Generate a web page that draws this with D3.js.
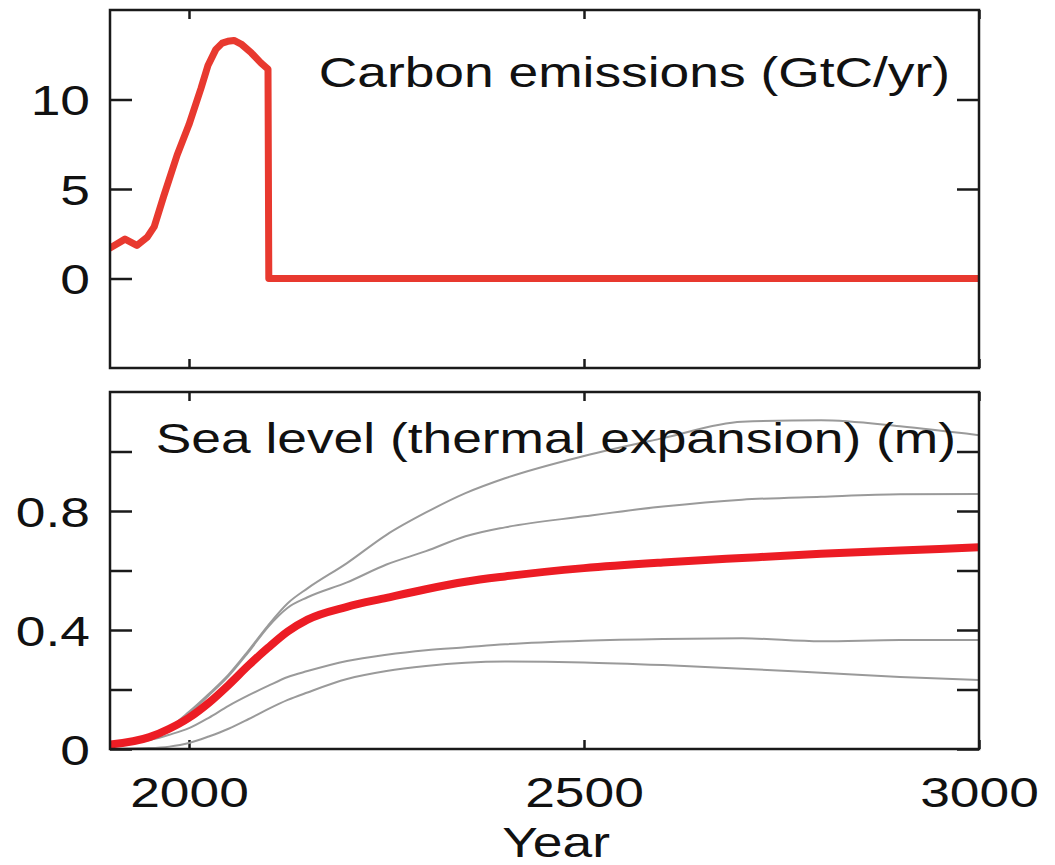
<!DOCTYPE html>
<html><head><meta charset="utf-8">
<script src="https://cdn.jsdelivr.net/npm/d3@7"></script>
<style>body{margin:0;background:#fff}</style>
</head><body><svg id="c" width="1055" height="865"></svg>
<script>
// ---- data ----
const emisYears  = [1900, 1919, 1934, 1947, 1956, 1968, 1985, 2000, 2015, 2024, 2034, 2042, 2049, 2057, 2066, 2079, 2091, 2100, 2101, 3000];
const emisValues = [1.7, 2.2, 1.85, 2.3, 2.9, 4.6, 6.9, 8.6, 10.6, 11.9, 12.8, 13.15, 13.25, 13.3, 13.1, 12.6, 12.05, 11.7, 0, 0];

const seaYears = [1900, 1950, 1975, 2000, 2025, 2050, 2075, 2100, 2125, 2150, 2200, 2250, 2300, 2350, 2400, 2500, 2600, 2700, 2800, 2900, 3000];
const seaMean  = [0.015, 0.04, 0.068, 0.105, 0.155, 0.215, 0.28, 0.34, 0.395, 0.435, 0.478, 0.508, 0.537, 0.562, 0.58, 0.608, 0.627, 0.642, 0.656, 0.667, 0.678];
const seaModelA = [0.015, 0.042, 0.072, 0.125, 0.185, 0.25, 0.33, 0.415, 0.49, 0.54, 0.625, 0.72, 0.795, 0.86, 0.91, 0.985, 1.045, 1.1, 1.105, 1.085, 1.055];
const seaModelB = [0.015, 0.042, 0.07, 0.12, 0.18, 0.245, 0.325, 0.41, 0.475, 0.51, 0.56, 0.62, 0.665, 0.715, 0.745, 0.782, 0.815, 0.838, 0.848, 0.856, 0.857];
const seaModelC = [0.012, 0.03, 0.048, 0.07, 0.105, 0.145, 0.18, 0.212, 0.242, 0.262, 0.296, 0.317, 0.332, 0.342, 0.352, 0.364, 0.37, 0.372, 0.362, 0.366, 0.366];
const seaModelD = [0.0, 0.003, 0.008, 0.02, 0.042, 0.068, 0.1, 0.134, 0.165, 0.19, 0.235, 0.262, 0.279, 0.29, 0.294, 0.291, 0.282, 0.27, 0.256, 0.242, 0.232];

const xTicks = [2000, 2500, 3000];
const topYTicks = [0, 5, 10];
const topYLabels = ["0", "5", "10"];
const botYTicks = [0, 0.2, 0.4, 0.6, 0.8, 1.0];
const botYLabels = {0: "0", 0.4: "0.4", 0.8: "0.8"};
const xTitle = "Year";
const topTitle = "Carbon emissions (GtC/yr)";
const botTitle = "Sea level (thermal expansion) (m)";

// ---- layout ----
const svg = d3.select('#c');
svg.append('rect').attr('width', 1055).attr('height', 865).attr('fill', '#fff');
const X0 = 110, X1 = 979;
const TOP = [10, 368], BOT = [392, 749];
const SX = 1.27;
const FONT = "'Liberation Sans', Arial, Helvetica, sans-serif";
const INK = '#1a1a1a';

const x = d3.scaleLinear().domain([1900, 3000]).range([X0, X1]);
const yTop = d3.scaleLinear().domain([-5, 15]).range([TOP[1], TOP[0]]);
const yBot = d3.scaleLinear().domain([0, 1.2]).range([BOT[1], BOT[0]]);

const defs = svg.append('defs');
function clip(id, y0, y1) {
  defs.append('clipPath').attr('id', id).append('rect')
    .attr('x', X0).attr('y', y0).attr('width', X1 - X0).attr('height', y1 - y0);
}
clip('cTop', TOP[0], TOP[1]);
clip('cBot', BOT[0], BOT[1]);

function styleAxis(g, showText) {
  g.select('.domain').remove();
  g.selectAll('.tick line').attr('stroke', INK).attr('stroke-width', 2.5);
  g.selectAll('.tick text')
    .attr('font-size', 42).attr('font-family', FONT).attr('fill', '#111')
    .attr('transform', `scale(${SX},1)`);
  if (!showText) g.selectAll('.tick text').remove();
}

function panelAxes(y, rng, yTicks, yFmt, showX) {
  svg.append('g').attr('transform', `translate(${X0},0)`)
    .call(d3.axisLeft(y).tickValues(yTicks).tickSize(-22).tickPadding(20 / SX).tickFormat(yFmt))
    .call(g => { styleAxis(g, true); g.selectAll('.tick text').attr('dy', '0.36em'); });
  svg.append('g').attr('transform', `translate(${X1},0)`)
    .call(d3.axisRight(y).tickValues(yTicks).tickSize(-22).tickFormat(''))
    .call(g => styleAxis(g, false));
  svg.append('g').attr('transform', `translate(0,${rng[0]})`)
    .call(d3.axisTop(x).tickValues(xTicks).tickSize(-9).tickFormat(''))
    .call(g => styleAxis(g, false));
  svg.append('g').attr('transform', `translate(0,${rng[1]})`)
    .call(d3.axisBottom(x).tickValues(xTicks).tickSize(-9).tickPadding(28).tickFormat(showX ? d3.format('d') : ''))
    .call(g => styleAxis(g, showX));
}

panelAxes(yTop, TOP, topYTicks, (d, i) => topYLabels[i], false);
panelAxes(yBot, BOT, botYTicks, d => botYLabels[d] !== undefined ? botYLabels[d] : '', true);

// ---- data lines ----
const emis = emisYears.map((yr, i) => [yr, emisValues[i]]);
svg.append('g').attr('clip-path', 'url(#cTop)')
  .append('path').datum(emis)
  .attr('d', d3.line().x(d => x(d[0])).y(d => yTop(d[1])))
  .attr('fill', 'none').attr('stroke', '#e8392f').attr('stroke-width', 7)
  .attr('stroke-linejoin', 'round').attr('stroke-linecap', 'round');

const seaLine = d3.line().curve(d3.curveMonotoneX).x(d => x(d[0])).y(d => yBot(d[1]));
const gBot = svg.append('g').attr('clip-path', 'url(#cBot)');
[seaModelA, seaModelB, seaModelC, seaModelD].forEach(vals => {
  gBot.append('path').datum(seaYears.map((yr, i) => [yr, vals[i]]))
    .attr('d', seaLine).attr('fill', 'none').attr('stroke', '#9a9a9a').attr('stroke-width', 2);
});
gBot.append('path').datum(seaYears.map((yr, i) => [yr, seaMean[i]]))
  .attr('d', seaLine).attr('fill', 'none').attr('stroke', '#ec1c24').attr('stroke-width', 8)
  .attr('stroke-linecap', 'round');

// ---- frames ----
[TOP, BOT].forEach(r => {
  svg.append('rect').attr('x', X0).attr('y', r[0]).attr('width', X1 - X0).attr('height', r[1] - r[0])
    .attr('fill', 'none').attr('stroke', INK).attr('stroke-width', 2.5);
});

// ---- titles ----
function label(txt, px, py, anchor) {
  svg.append('text').attr('transform', `translate(${px},${py}) scale(${SX},1)`)
    .attr('text-anchor', anchor).attr('font-size', 42).attr('font-family', FONT).attr('fill', '#111')
    .text(txt);
}
label(topTitle, 950, 87, 'end');
label(botTitle, 956, 453, 'end');
label(xTitle, 556, 857, 'middle');
</script></body></html>
